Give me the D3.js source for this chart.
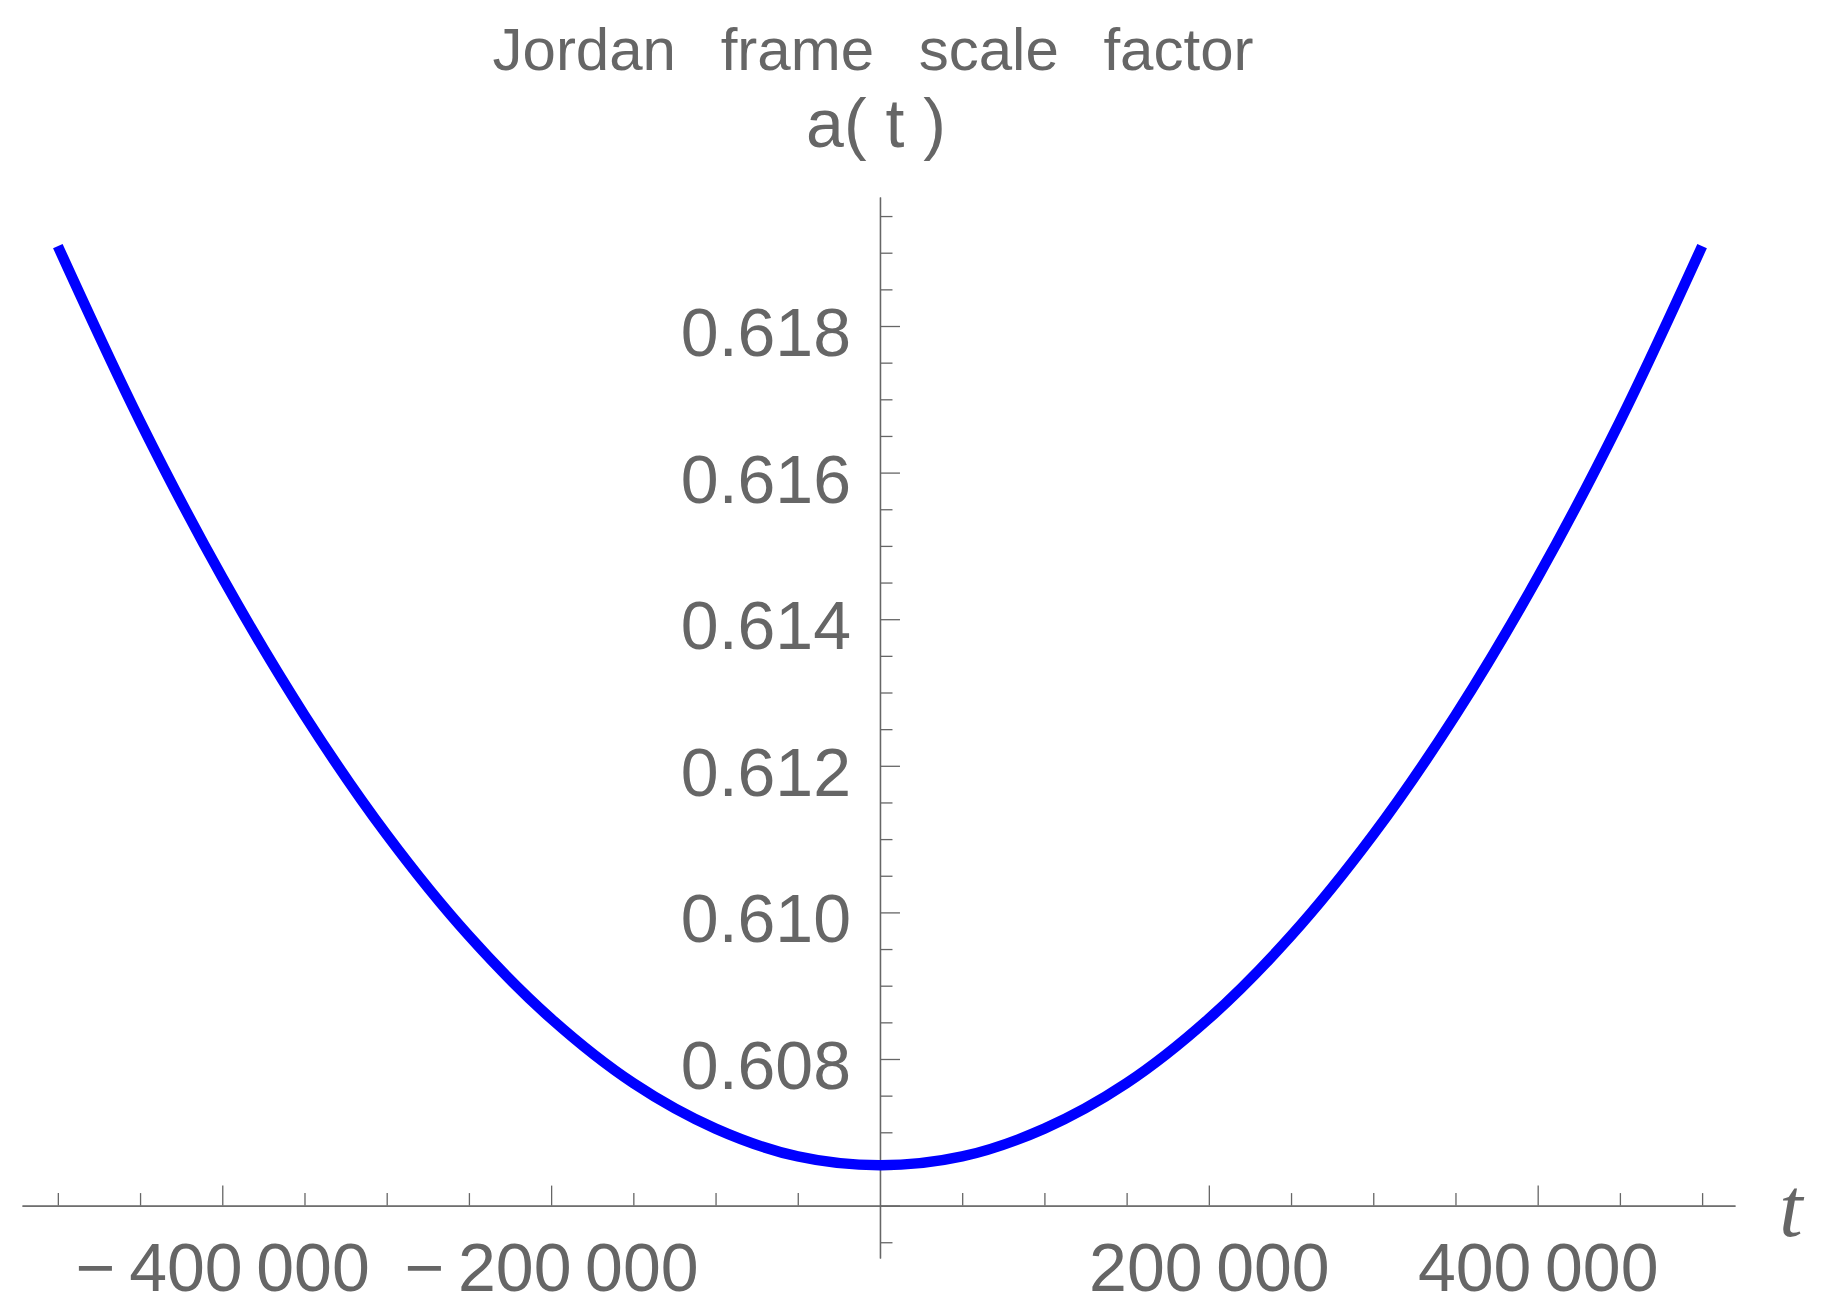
<!DOCTYPE html>
<html lang="en">
<head>
    <meta charset="utf-8" />
    <title>Jordan frame scale factor</title>
    <script src="https://d3js.org/d3.v7.min.js"></script>
    <style>
        body { margin: 0; background: #fff; }
        text { font-family: "Liberation Sans", Arial, sans-serif; fill: #666; }
        .axis path, .axis line { stroke: #666; stroke-width: 1.3px; }
    </style>
</head>
<body>
    <svg width="1830" height="1315"></svg>
    <script>
        // values
        var tValues = [-500000, -450000, -400000, -350000, -300000, -250000, -200000, -150000, -100000, -50000, 0,
                       50000, 100000, 150000, 200000, 250000, 300000, 350000, 400000, 450000, 500000];
        var aValues = [0.61909, 0.61670, 0.61457, 0.61269, 0.61106, 0.60968, 0.60855, 0.60767, 0.60705, 0.60667, 0.60655,
                       0.60667, 0.60705, 0.60767, 0.60855, 0.60968, 0.61106, 0.61269, 0.61457, 0.61670, 0.61909];

        var xMajorTicks = [-400000, -200000, 200000, 400000];
        var xMinorTicks = [-500000, -450000, -350000, -300000, -250000, -150000, -100000, -50000,
                           50000, 100000, 150000, 250000, 300000, 350000, 450000, 500000];
        var yMajorTicks = [0.606, 0.608, 0.610, 0.612, 0.614, 0.616, 0.618];
        var yMinorTicks = [0.6055, 0.6065, 0.607, 0.6075, 0.6085, 0.609, 0.6095, 0.6105, 0.611, 0.6115,
                           0.6125, 0.613, 0.6135, 0.6145, 0.615, 0.6155, 0.6165, 0.617, 0.6175, 0.6185, 0.619, 0.6195];

        var svg = d3.select("svg");

        var x = d3.scaleLinear().domain([-521800, 520000]).range([22, 1735]);
        var y = d3.scaleLinear().domain([0.605285, 0.61976]).range([1258, 197]);

        var x0 = x(0), y0 = y(0.606);

        // digit grouping with a small gap, like the original labels
        function fmtX(d) {
            var s = Math.abs(d).toString();
            s = s.slice(0, s.length - 3) + "\u2009" + s.slice(-3);
            return (d < 0 ? "\u2212\u2009" : "") + s;
        }

        // x axis: minor ticks, then major ticks with labels below
        svg.append("g")
            .attr("class", "axis")
            .attr("transform", "translate(0," + y0 + ")")
            .call(d3.axisBottom(x).tickValues(xMinorTicks).tickSize(-12.5).tickSizeOuter(0).tickFormat(""));

        var xAxis = svg.append("g")
            .attr("class", "axis")
            .attr("transform", "translate(0," + y0 + ")")
            .call(d3.axisBottom(x).tickValues(xMajorTicks).tickSize(-20).tickSizeOuter(0)
                .tickPadding(37).tickFormat(fmtX));
        xAxis.selectAll("text")
            .style("font-size", "68px")
            .style("font-family", "'Liberation Sans', Arial, sans-serif")
            .style("word-spacing", "-3px")
            .attr("fill", "#666");

        // y axis through t = 0
        svg.append("g")
            .attr("class", "axis")
            .attr("transform", "translate(" + x0 + ",0)")
            .call(d3.axisLeft(y).tickValues(yMinorTicks).tickSize(-12.5).tickSizeOuter(0).tickFormat(""));

        var yAxis = svg.append("g")
            .attr("class", "axis")
            .attr("transform", "translate(" + x0 + ",0)")
            .call(d3.axisLeft(y).tickValues(yMajorTicks).tickSize(-20).tickSizeOuter(0)
                .tickPadding(29).tickFormat(function (d) { return d === 0.606 ? "" : d3.format(".3f")(d); }));
        yAxis.selectAll("text")
            .attr("dy", "0.435em")
            .style("font-size", "68px")
            .style("font-family", "'Liberation Sans', Arial, sans-serif")
            .attr("fill", "#666");

        // the curve
        var line = d3.line()
            .x(function (d, i) { return x(tValues[i]); })
            .y(function (d) { return y(d); })
            .curve(d3.curveCatmullRom);

        svg.append("path")
            .datum(aValues)
            .attr("d", line)
            .attr("fill", "none")
            .attr("stroke", "#0000ff")
            .attr("stroke-width", 10.5);

        // labels
        svg.append("text")
            .attr("x", 873).attr("y", 70)
            .attr("text-anchor", "middle")
            .style("font-size", "60px")
            .style("word-spacing", "28px")
            .text("Jordan frame scale factor");

        svg.append("text")
            .attr("x", 876).attr("y", 147)
            .attr("text-anchor", "middle")
            .style("font-size", "68px")
            .text("a( t )");

        svg.append("text")
            .attr("x", 1791).attr("y", 1236)
            .attr("text-anchor", "middle")
            .style("font-size", "84px")
            .style("font-style", "italic")
            .style("font-family", "'Liberation Serif', 'Times New Roman', serif")
            .text("t");
    </script>
</body>
</html>
